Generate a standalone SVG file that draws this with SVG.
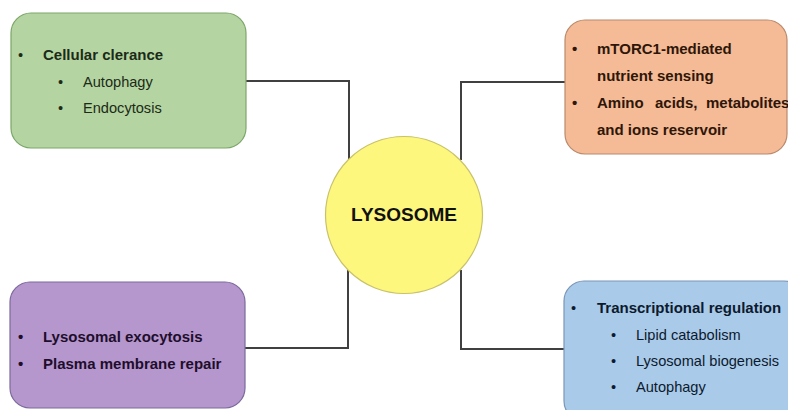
<svg xmlns="http://www.w3.org/2000/svg" width="788" height="410" viewBox="0 0 788 410">
<style>
.t{font-family:"Liberation Sans",Arial,sans-serif;font-size:14.6px}
.b{font-weight:bold;font-size:15px}
.big{font-weight:bold;font-size:19px}
.conn{fill:none;stroke:#404040;stroke-width:2}
</style>
<rect width="788" height="410" fill="#ffffff"/>
<g id="connectors">
<polyline class="conn" points="246,81 349,81 349,160"/>
<polyline class="conn" points="565,82 461,82 461,160"/>
<polyline class="conn" points="245,348 348,348 348,270"/>
<polyline class="conn" points="565,349 461,349 461,270"/>
</g>
<g id="lysosome">
<circle cx="404" cy="215" r="78.5" fill="#fdf77e" stroke="#c9c26a" stroke-width="1.2"/>
<text class="t big" x="404" y="221" text-anchor="middle" fill="#111">LYSOSOME</text>
</g>
<g id="clearance">
<rect x="11" y="13" width="235" height="135" rx="20" fill="#b4d5a1" stroke="#7da66a" stroke-width="1.2"/>
<g class="t" fill="#1c2a18">
<text x="18" y="60">•</text>
<text class="b" x="43" y="60">Cellular clerance</text>
<text x="58" y="87">•</text>
<text x="83" y="87">Autophagy</text>
<text x="58" y="113">•</text>
<text x="83" y="113">Endocytosis</text>
</g>
</g>
<g id="mtorc1">
<rect x="565" y="20" width="222" height="134" rx="20" fill="#f5ba96" stroke="#b98a6c" stroke-width="1.2"/>
<g class="t b" fill="#2e1608">
<text x="572" y="54">•</text>
<text x="597" y="54">mTORC1-mediated</text>
<text x="597" y="81">nutrient sensing</text>
<text x="572" y="108">•</text>
<text y="108"><tspan x="597">Amino</tspan><tspan x="655">acids,</tspan><tspan x="706">metabolites</tspan></text>
<text x="597" y="135">and ions reservoir</text>
</g>
</g>
<g id="exocytosis">
<rect x="10" y="282" width="235" height="126" rx="20" fill="#b596cd" stroke="#7b6a9c" stroke-width="1.2"/>
<g class="t b" fill="#1e0e2c">
<text x="18" y="342">•</text>
<text x="43" y="342">Lysosomal exocytosis</text>
<text x="18" y="369">•</text>
<text x="43" y="369">Plasma membrane repair</text>
</g>
</g>
<g id="transcription">
<rect x="564" y="281" width="240" height="140" rx="20" fill="#aacae9" stroke="#7b96b6" stroke-width="1.2"/>
<g class="t" fill="#0c1a2e">
<text x="571" y="313">•</text>
<text class="b" x="597" y="313">Transcriptional regulation</text>
<text x="611" y="340">•</text>
<text x="636" y="340">Lipid catabolism</text>
<text x="611" y="366">•</text>
<text x="636" y="366">Lysosomal biogenesis</text>
<text x="611" y="392">•</text>
<text x="636" y="392">Autophagy</text>
</g>
</g>
</svg>
